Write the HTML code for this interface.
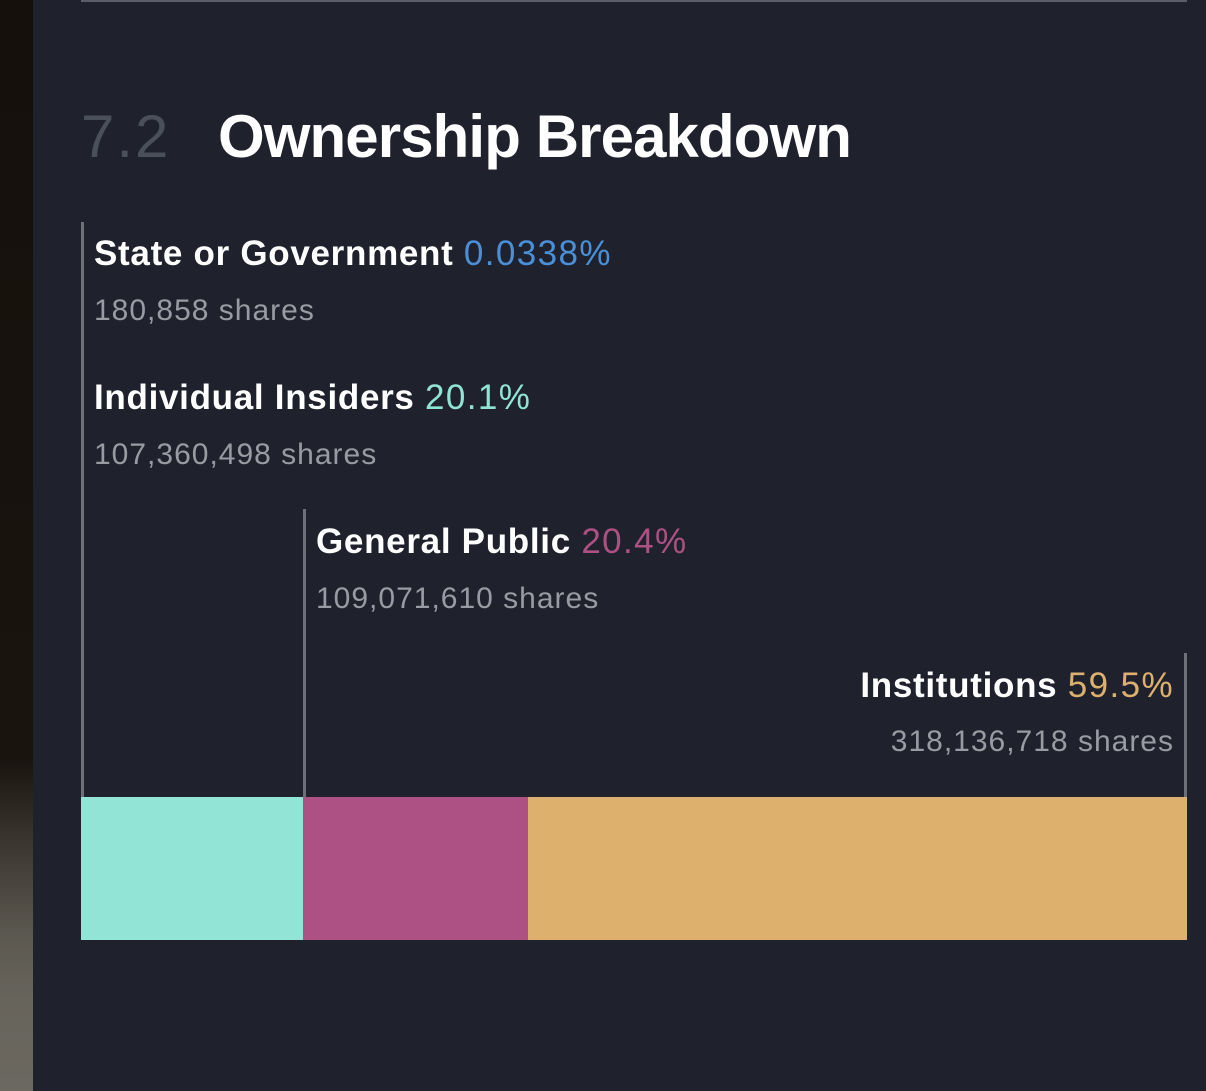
<!DOCTYPE html>
<html><head><style>
html,body{margin:0;padding:0;}
body{width:1206px;height:1091px;position:relative;overflow:hidden;background:#1f222d;font-family:"Liberation Sans",sans-serif;}
.strip{position:absolute;left:0;top:0;width:33px;height:1091px;background:linear-gradient(to bottom,#16100c 0px,#1a140f 760px,#3a352e 840px,#5a574f 930px,#67645c 1000px,#6b6860 1091px);}
.t{position:absolute;white-space:nowrap;}
.lbl{font-size:35px;font-weight:bold;color:#fff;letter-spacing:0.7px}
.lbl span{font-weight:normal;letter-spacing:1.4px}
.sh{font-size:30px;color:#9a9ba2;letter-spacing:1px}
.v{position:absolute;width:3px;background:#6e7079}
.b{position:absolute;top:797px;height:143px}
</style></head><body>
<div class="strip"></div>
<div style="position:absolute;left:81px;top:0;width:1106px;height:2px;background:#5b5e67"></div>
<div class="t" style="left:81px;top:102px;font-size:60px;color:#4b4f59;letter-spacing:2px">7.2</div>
<div class="t" style="left:218px;top:102px;font-size:60px;color:#fff;font-weight:bold;letter-spacing:-0.9px">Ownership Breakdown</div>
<div class="v" style="left:81px;top:222px;height:143px"></div>
<div class="v" style="left:81px;top:365px;height:432px"></div>
<div class="v" style="left:303px;top:509px;height:288px"></div>
<div class="v" style="left:1184px;top:653px;height:144px"></div>
<div class="t lbl" style="left:94px;top:234px">State or Government <span style="color:#4a90d9">0.0338%</span></div>
<div class="t sh" style="left:94px;top:294px">180,858 shares</div>
<div class="t lbl" style="left:94px;top:378px">Individual Insiders <span style="color:#90e4d5">20.1%</span></div>
<div class="t sh" style="left:94px;top:438px">107,360,498 shares</div>
<div class="t lbl" style="left:316px;top:522px">General Public <span style="color:#ad5083">20.4%</span></div>
<div class="t sh" style="left:316px;top:582px">109,071,610 shares</div>
<div class="t lbl" style="right:32px;top:666px">Institutions <span style="color:#ddb06e">59.5%</span></div>
<div class="t sh" style="right:32px;top:725px">318,136,718 shares</div>
<div class="b" style="left:81px;width:222px;background:#92e4d7"></div>
<div class="b" style="left:303px;width:225px;background:#ad5083"></div>
<div class="b" style="left:528px;width:659px;background:#ddb06e"></div>
</body></html>
